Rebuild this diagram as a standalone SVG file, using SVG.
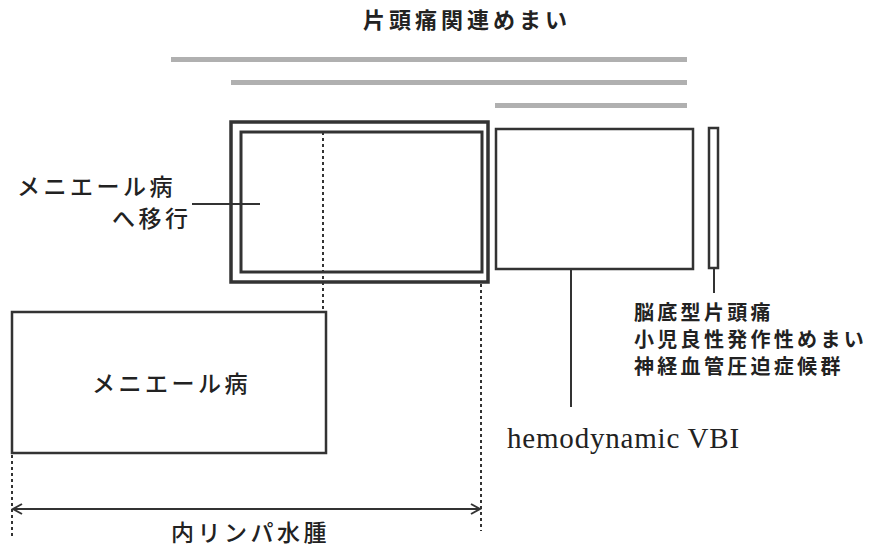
<svg xmlns="http://www.w3.org/2000/svg" width="871" height="552" viewBox="0 0 871 552">
<style>
.jp{font-family:"Noto Sans CJK JP","Noto Sans",sans-serif;fill:#222;}
.lbl{font-size:23px;letter-spacing:3.5px;font-weight:500;}
.bold{font-weight:bold;}
.side{font-size:20px;letter-spacing:3.3px;font-weight:bold;}
.box{fill:none;stroke:#333;}
.bar{fill:#b0b0b0;}
.dot{stroke:#333;stroke-width:2;stroke-dasharray:3 3;fill:none;}
.ln{stroke:#333;stroke-width:2;fill:none;}
</style>
<defs>
<marker id="arr" markerWidth="12" markerHeight="12" refX="10" refY="6" orient="auto-start-reverse" markerUnits="userSpaceOnUse">
<path d="M1,1 L10,6 L1,11" fill="none" stroke="#333" stroke-width="2"/>
</marker>
</defs>
<rect width="871" height="552" fill="#fff"/>
<g id="title">
<text class="jp bold" x="363" y="28" font-size="22" letter-spacing="4">片頭痛関連めまい</text>
</g>
<g id="bars">
<rect class="bar" x="171" y="57" width="516" height="5"/>
<rect class="bar" x="231" y="80" width="456" height="5"/>
<rect class="bar" x="495" y="103" width="192" height="5"/>
</g>
<g id="connectors">
<line class="dot" x1="323" y1="132" x2="323" y2="311"/>
<line class="dot" x1="481" y1="284" x2="481" y2="531"/>
<line class="dot" x1="12" y1="455" x2="12" y2="536"/>
<line class="ln" x1="192" y1="204" x2="260" y2="204"/>
<line class="ln" x1="571" y1="270" x2="571" y2="407"/>
<line class="ln" x1="714" y1="268" x2="714" y2="293"/>
<line class="ln" x1="13" y1="509" x2="480" y2="509" marker-start="url(#arr)" marker-end="url(#arr)"/>
</g>
<g id="migraine-meniere">
<rect class="box" x="231" y="122" width="257" height="160" stroke-width="3.5"/>
<rect class="box" x="241" y="132" width="241" height="140" stroke-width="3"/>
</g>
<g id="label-transition">
<text class="jp lbl" x="17" y="195">メニエール病</text>
<text class="jp lbl" x="112" y="227">へ移行</text>
</g>
<g id="hemodynamic">
<rect class="box" x="496" y="129" width="197" height="140" stroke-width="2.5"/>
</g>
<g id="narrow">
<rect class="box" x="709" y="128" width="9" height="140" stroke-width="2.5"/>
</g>
<g id="label-basilar">
<text class="jp side" x="634" y="320">脳底型片頭痛</text>
<text class="jp side" x="634" y="347">小児良性発作性めまい</text>
<text class="jp side" x="634" y="374">神経血管圧迫症候群</text>
</g>
<g id="label-vbi">
<text x="507" y="448" font-family="Liberation Serif,serif" font-size="29" letter-spacing="0.8" fill="#222">hemodynamic VBI</text>
</g>
<g id="meniere">
<rect class="box" x="12" y="312" width="314" height="141" stroke-width="2.5"/>
<text class="jp lbl" x="92" y="392" letter-spacing="2.8">メニエール病</text>
</g>
<g id="label-hydrops">
<text class="jp lbl" x="171" y="541" letter-spacing="4.6">内リンパ水腫</text>
</g>
</svg>
